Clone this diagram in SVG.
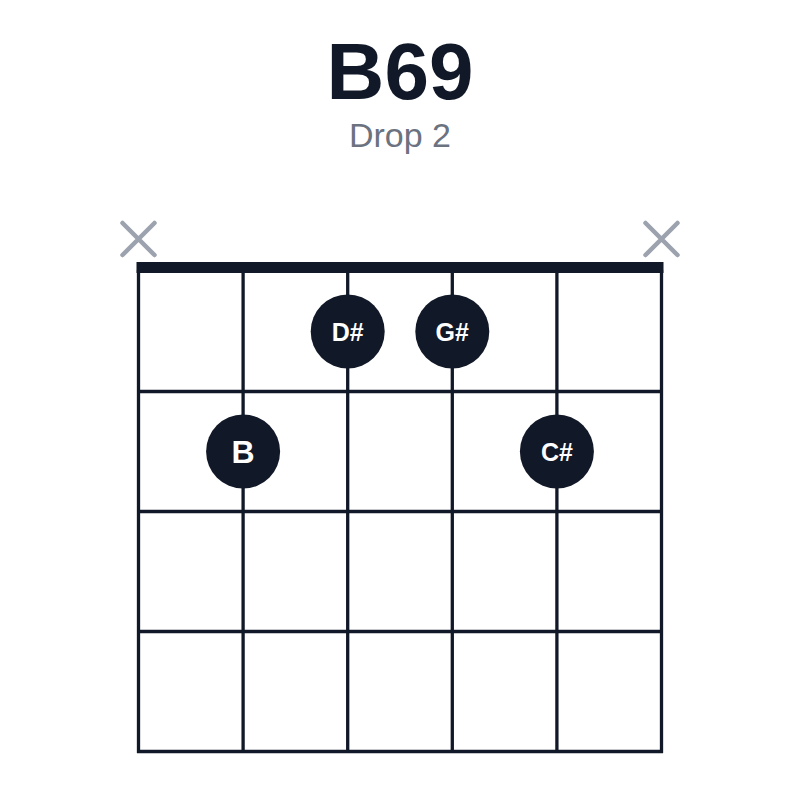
<svg xmlns="http://www.w3.org/2000/svg" width="800" height="800" viewBox="0 0 800 800">
<style>
.title{font-family:"Liberation Sans",Arial,sans-serif;font-weight:bold;font-size:80px;fill:#111827;text-anchor:middle}
.sub{font-family:"Liberation Sans",Arial,sans-serif;font-size:34px;fill:#6b7280;text-anchor:middle}
.line{stroke:#111827;stroke-width:3.3;fill:none}
.mute{stroke:#9ca3af;stroke-width:4.5;stroke-linecap:round;fill:none}
.dot{fill:#111827}
.lbl{font-family:"Liberation Sans",Arial,sans-serif;font-weight:bold;fill:#ffffff;text-anchor:middle}
</style>
<rect width="800" height="800" fill="#ffffff"/>
<g id="title">
<text class="title" x="400" y="99">B69</text>
<text class="sub" x="400" y="147">Drop 2</text>
</g>
<g id="grid">
<rect x="136.5" y="262" width="527" height="11" fill="#111827"/>
<line class="line" x1="138.5" y1="270" x2="138.5" y2="753"/>
<line class="line" x1="243.1" y1="270" x2="243.1" y2="753"/>
<line class="line" x1="347.7" y1="270" x2="347.7" y2="753"/>
<line class="line" x1="452.3" y1="270" x2="452.3" y2="753"/>
<line class="line" x1="556.9" y1="270" x2="556.9" y2="753"/>
<line class="line" x1="661.5" y1="270" x2="661.5" y2="753"/>
<line class="line" x1="137" y1="391.5" x2="663" y2="391.5"/>
<line class="line" x1="137" y1="511.5" x2="663" y2="511.5"/>
<line class="line" x1="137" y1="631.5" x2="663" y2="631.5"/>
<line class="line" x1="137" y1="751.5" x2="663" y2="751.5"/>
</g>
<g id="mute-1">
<path class="mute" d="M122.5 223 L154.5 255 M154.5 223 L122.5 255"/>
</g>
<g id="mute-6">
<path class="mute" d="M645.5 223 L677.5 255 M677.5 223 L645.5 255"/>
</g>
<g id="note-D#">
<circle class="dot" cx="347.7" cy="331.5" r="37"/>
<text class="lbl" x="347.7" y="341" font-size="25">D#</text>
</g>
<g id="note-G#">
<circle class="dot" cx="452.3" cy="331.5" r="37"/>
<text class="lbl" x="452.3" y="341" font-size="25">G#</text>
</g>
<g id="note-B">
<circle class="dot" cx="243.1" cy="451.5" r="37"/>
<text class="lbl" x="243.1" y="463" font-size="32">B</text>
</g>
<g id="note-C#">
<circle class="dot" cx="556.9" cy="451.5" r="37"/>
<text class="lbl" x="556.9" y="461" font-size="25">C#</text>
</g>
</svg>
